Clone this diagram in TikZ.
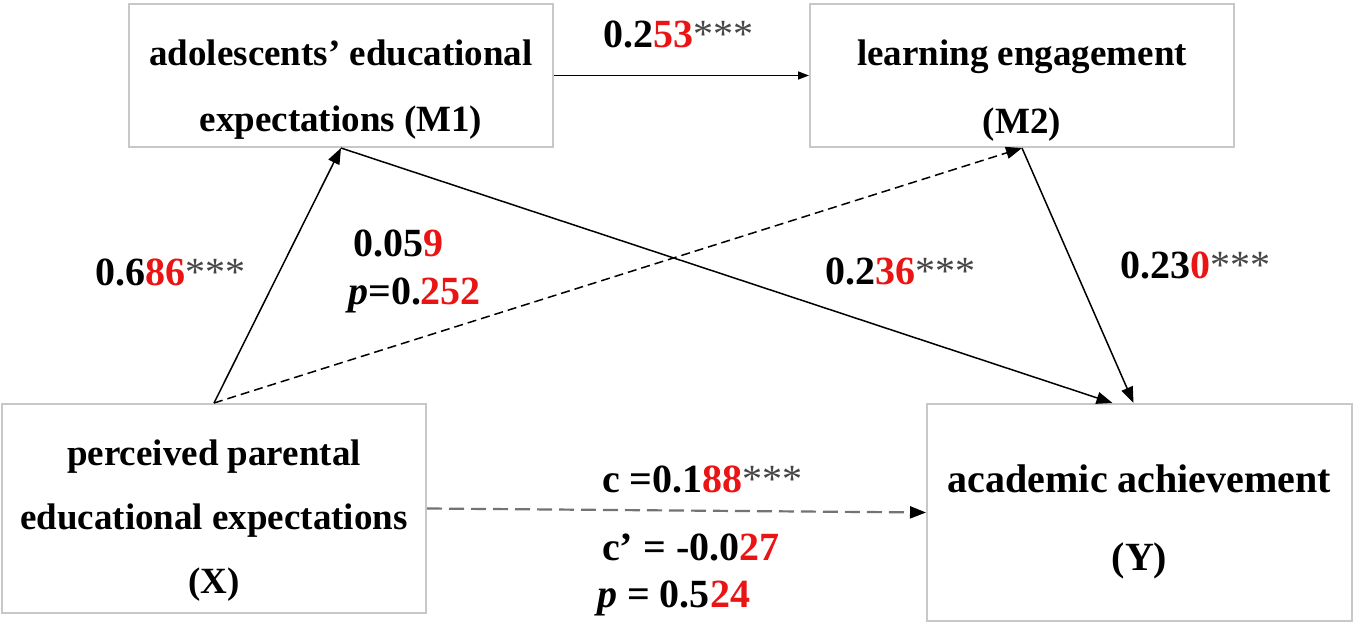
\documentclass[tikz,border=0pt]{standalone}
\usepackage{fontspec}
\setmainfont{Liberation Serif}
\usetikzlibrary{arrows.meta,calc}
\definecolor{redn}{RGB}{235,20,20}
\definecolor{boxgray}{RGB}{200,200,200}
\definecolor{astgray}{RGB}{70,70,70}
\definecolor{hdashgray}{RGB}{115,115,115}
\newcommand{\rn}[1]{\textcolor{redn}{#1}}
\newcommand{\stars}{{\mdseries\color{astgray}***}}
\begin{document}
\begin{tikzpicture}[x=1pt,y=-1pt,
  box/.style={draw=boxgray, line width=2pt, inner sep=0pt, minimum width=424pt},
  boxtext/.style={inner sep=0pt, align=center, font=\fontsize{37}{#1}\selectfont\bfseries},
  lab/.style={inner sep=0pt, anchor=base west, font=\fontsize{40}{48}\selectfont\bfseries},
  arr/.style={line width=1.5pt, -{Triangle[length=16pt,width=12pt]}},
  smallarr/.style={line width=1.5pt, -{Triangle[length=11pt,width=8pt]}},
  ddash/.style={dash pattern=on 9pt off 5pt},
  hdash/.style={draw=hdashgray, line width=2.2pt, dash pattern=on 15pt off 7pt,
    -{Triangle[length=16pt,width=12pt,color=black]}}
]
\useasboundingbox (0,0) rectangle (1355,628);
\fill[white] (0,0) rectangle (1355,628);

% boxes
\node[box, minimum height=143pt] (m1) at (341,75.5) {};
\node[box, minimum height=143pt] (m2) at (1022,75.5) {};
\node[box, minimum height=209pt] (x) at (214,508.5) {};
\node[box, minimum width=425pt, minimum height=217pt] (y) at (1139.5,512.5) {};

% box texts
\node[boxtext=66] (m1t) at (341,89.5) {adolescents’ educational\\expectations (M1)};
\node[boxtext=68] (m2t) at (1022,90.5) {learning engagement\\(M2)};
\node[boxtext=64] (xt) at (214,520.5) {perceived parental\\educational expectations\\(X)};
\node[inner sep=0pt, align=center, font=\fontsize{40}{78}\selectfont\bfseries] (yt) at (1139.5,522) {academic achievement\\(Y)};

% connectors
\draw[smallarr] (m1.east) -- (m2.west);
\draw[arr] (x.north) -- (m1.south);
\draw[arr, ddash] (x.north) -- (m2.south);
\draw[arr] (m1.south) -- ([xshift=-27pt]y.north);
\draw[arr] (m2.south) -- ([xshift=-6pt]y.north);
\draw[hdash] (x.east) -- (y.west);

% labels
\node[lab] (l253) at (603,48) {0.2\rn{53}\stars};
\node[lab] (l686) at (95,286) {0.6\rn{86}\stars};
\node[lab] (l059) at (353,257) {0.05\rn{9}};
\node[lab] (lp252) at (348,305) {\textit{p}=0.\rn{252}};
\node[lab] (l236) at (825,285) {0.2\rn{36}\stars};
\node[lab] (l230) at (1120,279) {0.23\rn{0}\stars};
\node[lab] (lc) at (602,492) {c =0.1\rn{88}\stars};
\node[lab] (lcp) at (602,560) {c’ = -0.0\rn{27}};
\node[lab] (lp524) at (597,607) {\textit{p} = 0.5\rn{24}};
\end{tikzpicture}
\end{document}
